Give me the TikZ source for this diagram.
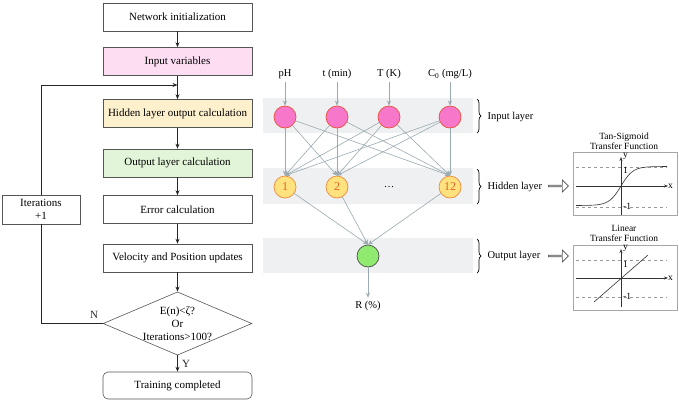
\documentclass[tikz,border=0pt]{standalone}
\usepackage{fontspec}
\setmainfont{Liberation Serif}
\usetikzlibrary{shapes.geometric,shapes.arrows,decorations.pathreplacing,arrows.meta}
\definecolor{bpink}{HTML}{FCDDF2}
\definecolor{byellow}{HTML}{FDF0CC}
\definecolor{bgreen}{HTML}{E3F5D8}
\definecolor{npink}{HTML}{F777CB}
\definecolor{nred}{HTML}{E8503A}
\definecolor{nyellow}{HTML}{FFE27E}
\definecolor{norange}{HTML}{EE8A3A}
\definecolor{ntext}{HTML}{E2622B}
\definecolor{ngreen}{HTML}{90EA70}
\definecolor{wire}{HTML}{9AAAB0}
\definecolor{band}{HTML}{EEF0F1}
\definecolor{edge}{HTML}{555555}
\tikzset{
  flow/.style={draw=edge, line width=0.6pt, minimum width=149pt, minimum height=28pt, inner sep=0pt, font=\fontsize{11}{12}\selectfont},
  arr/.style={-{Stealth[length=5pt,width=4pt]}, line width=0.7pt, black!85},
  neuron/.style={circle, minimum size=22pt, inner sep=0pt, line width=0.7pt},
  inp/.style={neuron, draw=nred, fill=npink},
  hid/.style={neuron, draw=norange, fill=nyellow, text=ntext, font=\fontsize{12}{12}\selectfont},
  outn/.style={neuron, draw=black!70, fill=ngreen},
  warr/.style={-{Stealth[length=5pt,width=4pt]}, line width=0.6pt, wire},
  lbl/.style={font=\fontsize{10.5}{12}\selectfont},
  bandbox/.style={fill=band, draw=none},
  brc/.style={decorate, decoration={brace, amplitude=4pt}, line width=0.7pt},
  fbox/.style={draw=black!35, line width=0.6pt, fill=white},
  ax/.style={-{Stealth[length=4pt,width=3pt]}, line width=0.6pt, black!80},
  dsh/.style={dashed, line width=0.5pt, black!40},
  hollow/.style={single arrow, draw=black!70, line width=0.6pt, minimum height=20pt, minimum width=12pt, single arrow head extend=2pt, single arrow tip angle=90, inner sep=0pt, fill=white},
  small/.style={font=\fontsize{9.5}{10}\selectfont}
}
\begin{document}
\begin{tikzpicture}[x=1pt,y=-1pt]
\useasboundingbox (0,0) rectangle (679,402);
% ---------- flowchart ----------
\node[flow] (n1) at (177.5,17) {Network initialization};
\node[flow, fill=bpink] (n2) at (177.5,61.5) {Input variables};
\node[flow, fill=byellow] (n3) at (177.5,113.5) {Hidden layer output calculation};
\node[flow, fill=bgreen] (n4) at (177.5,163) {Output layer calculation};
\node[flow] (n5) at (177.5,209.5) {Error calculation};
\node[flow] (n6) at (177.5,258) {Velocity and Position updates};
\node[draw=edge, line width=0.6pt, diamond, minimum width=148pt, minimum height=63pt, inner sep=0pt, aspect=2.35, align=center, font=\fontsize{11}{13}\selectfont] (dia) at (177.5,323.5) {E(n)<ζ?\\Or\\Iterations>100?};
\node[flow, rounded corners=5pt, minimum height=27pt] (n7) at (177.5,385.5) {Training completed};
\node[flow, minimum width=78pt, minimum height=29pt, align=center, font=\fontsize{11}{13}\selectfont] (it) at (41,209.5) {Iterations\\+1};
\coordinate (j) at (177.5,85);
\draw[arr] (n1) -- (n2);
\draw[line width=0.7pt, black!85] (n2) -- (j);
\draw[arr] (j) -- (n3);
\draw[arr] (n3) -- (n4);
\draw[arr] (n4) -- (n5);
\draw[arr] (n5) -- (n6);
\draw[arr] (n6) -- (dia);
\draw[arr] (dia) -- node[right, font=\fontsize{11}{12}\selectfont, xshift=1pt] {Y} (n7);
\draw[line width=0.7pt, black!85] (dia.west) -- node[above, pos=0.14, font=\fontsize{11}{12}\selectfont, yshift=1pt] {N} (dia.west -| it.south) -- (it.south);
\draw[arr] (it.north) -- (it.north |- j) -- (j);
% ---------- network ----------
\fill[bandbox] (263,98) rectangle (473,133);
\fill[bandbox] (263,168) rectangle (473,204);
\fill[bandbox] (263,238) rectangle (473,273);
\node[inp] (i1) at (285,117) {};
\node[inp] (i2) at (337,117) {};
\node[inp] (i3) at (389,117) {};
\node[inp] (i4) at (450,117) {};
\node[lbl] (l1) at (285,74) {pH};
\node[lbl] (l2) at (337,74) {t (min)};
\node[lbl] (l3) at (389,74) {T (K)};
\node[lbl] (l4) at (450,74) {C\textsubscript{0} (mg/L)};
\node[hid] (h1) at (285,187) {1};
\node[hid] (h2) at (337,187) {2};
\node[lbl] (hd) at (389,187) {…};
\node[hid] (h3) at (450,187) {12};
\node[outn] (o) at (368,256) {};
\node[lbl] (r) at (368,306) {R (\%)};
\foreach \k in {1,2,3,4} {\draw[warr] (l\k) -- (i\k);}
\foreach \a in {1,2,3,4} {\foreach \b in {1,2,3} {\draw[warr] (i\a) -- (h\b.north);}}
\foreach \b in {1,2,3} {\draw[warr] (h\b) -- (o.north);}
\draw[warr] (o) -- (r);
% braces and layer labels
\draw[brc] (477,99) -- (477,133);
\draw[brc] (477,169) -- (477,204);
\draw[brc] (477,239) -- (477,273);
\node[lbl, anchor=west] (tl1) at (484,117) {Input layer};
\node[lbl, anchor=west] (tl2) at (484,187) {Hidden layer};
\node[lbl, anchor=west] (tl3) at (484,256) {Output layer};
\node[hollow] (ha1) at (558,186) {};
\node[hollow] (ha2) at (558,256) {};
% ---------- transfer functions ----------
\node[small, align=center] (t1) at (624,141) {Tan-Sigmoid\\Transfer Function};
\draw[fbox] (573,152) rectangle (677,215);
\draw[dsh] (576,167) -- (667,167);
\draw[dsh] (576,207) -- (667,207);
\draw[ax] (576,186) -- (668,186);
\draw[ax] (621,215) -- (621,157);
\draw[line width=0.6pt, black!80, domain=-45:46, samples=60] plot ({621+\x},{186-19.5*tanh(\x/12)});
\node[small, anchor=west, inner sep=0] (ty) at (623,156) {y};
\node[small, anchor=west, inner sep=0] (tx) at (668,186) {x};
\node[small, anchor=west, inner sep=0] (t1a) at (623,170) {1};
\node[small, anchor=west, inner sep=0] (t1b) at (623,206) {-1};
\node[small, align=center] (t2) at (624,233) {Linear\\Transfer Function};
\draw[fbox] (573,245) rectangle (677,310);
\draw[dsh] (576,260) -- (667,260);
\draw[dsh] (576,297) -- (667,297);
\draw[ax] (576,278) -- (668,278);
\draw[ax] (621,307) -- (621,249);
\draw[line width=0.6pt, black!80] (594,302) -- (648,255);
\node[small, anchor=west, inner sep=0] (ly) at (623,248) {y};
\node[small, anchor=west, inner sep=0] (lx) at (668,278) {x};
\node[small, anchor=west, inner sep=0] (l1a) at (623,264) {1};
\node[small, anchor=west, inner sep=0] (l1b) at (623,296) {-1};
\end{tikzpicture}
\end{document}
